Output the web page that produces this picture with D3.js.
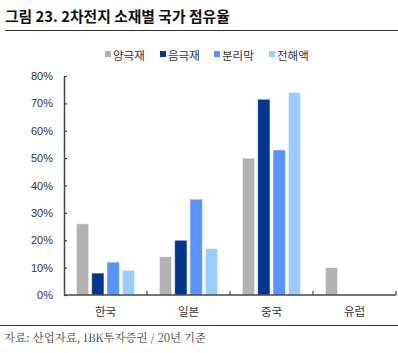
<!DOCTYPE html>
<html>
<head>
<meta charset="utf-8">
<script src="https://cdn.jsdelivr.net/npm/d3@7"></script>
<style>
  body { margin: 0; background: #fff; }
  svg { display: block; font-family: "Noto Sans CJK KR", "Noto Sans", sans-serif; }
</style>
</head>
<body>
<svg id="chart" width="398" height="353"></svg>
<script>
// data
const countries = ['한국', '일본', '중국', '유럽']
const seriesNames = ['양극재', '음극재', '분리막', '전해액']
const cathode = [26, 14, 50, 10]
const anode = [8, 20, 71.5, 0]
const separator = [12, 35, 53, 0]
const electrolyte = [9, 17, 74, 0]
const yTicks = [0, 10, 20, 30, 40, 50, 60, 70, 80]
const colors = ['#b2b2b2', '#003591', '#5593ff', '#99ccff']

const values = [cathode, anode, separator, electrolyte]

const svg = d3.select('#chart')
const margin = {top: 76, bottom: 58, left: 64, right: 2}
const width = +svg.attr('width')
const height = +svg.attr('height')

// title + rule
svg.append('text')
  .attr('x', 5).attr('y', 22)
  .text('그림 23. 2차전지 소재별 국가 점유율')
  .attr('font-size', 14.8).attr('font-weight', 'bold').attr('fill', '#111')
svg.append('line')
  .attr('x1', 5).attr('x2', 398).attr('y1', 30.5).attr('y2', 30.5)
  .attr('stroke', '#333').attr('stroke-width', 1.2)

// scales
const x0 = d3.scaleBand()
  .domain(countries)
  .range([margin.left, width - margin.right])

const x1 = d3.scaleBand()
  .domain(seriesNames)
  .range([0, x0.bandwidth()])
  .paddingInner(0.2)
  .paddingOuter(0.81)

const y = d3.scaleLinear()
  .domain([0, 80])
  .range([height - margin.bottom, margin.top])

// legend
const legendX = [105, 160, 214, 269]
const legend = svg.append('g')
seriesNames.forEach((s, i) => {
  legend.append('rect')
    .attr('x', legendX[i]).attr('y', 51)
    .attr('width', 6).attr('height', 6)
    .attr('fill', colors[i])
  legend.append('text')
    .attr('x', legendX[i] + 8).attr('y', 59.5)
    .text(s)
    .attr('font-size', 11.5).attr('fill', '#333')
})

// bars
const g = svg.append('g')
countries.forEach((c, ci) => {
  seriesNames.forEach((s, si) => {
    const v = values[si][ci]
    if (!v) return
    g.append('rect')
      .attr('x', x0(c) + x1(s))
      .attr('y', y(v))
      .attr('width', x1.bandwidth())
      .attr('height', y(0) - y(v))
      .attr('fill', colors[si])
      .attr('stroke', '#fff')
      .attr('stroke-opacity', 0.6)
      .attr('stroke-width', 0.8)
  })
})

// y axis
const yAxis = svg.append('g')
  .attr('transform', `translate(${margin.left},0)`)
  .call(d3.axisLeft(y).tickValues(yTicks).tickFormat(d => d + '%')
    .tickSizeInner(-3).tickSizeOuter(0).tickPadding(11))
yAxis.select('.domain').attr('stroke', '#444').attr('stroke-width', 1.5)
yAxis.selectAll('.tick line').attr('stroke', '#444').attr('stroke-width', 1.2)
yAxis.selectAll('text').attr('font-size', 11).attr('fill', '#333')
  .attr('font-family', '"Liberation Sans", Arial, sans-serif')

// x axis: baseline, boundary ticks pointing up, labels
const xAxis = svg.append('g')
xAxis.append('line')
  .attr('x1', margin.left).attr('x2', width - margin.right)
  .attr('y1', y(0)).attr('y2', y(0))
  .attr('stroke', '#444').attr('stroke-width', 1.5)
countries.forEach(c => {
  const bx = x0(c) + x0.bandwidth()
  xAxis.append('line')
    .attr('x1', bx).attr('x2', bx)
    .attr('y1', y(0)).attr('y2', y(0) - 4)
    .attr('stroke', '#444').attr('stroke-width', 1.2)
  xAxis.append('text')
    .attr('x', x0(c) + x0.bandwidth() / 2)
    .attr('y', y(0) + 21)
    .attr('text-anchor', 'middle')
    .text(c)
    .attr('font-size', 11.5).attr('fill', '#333')
})

// source
svg.append('line')
  .attr('x1', 0).attr('x2', 398).attr('y1', 325.5).attr('y2', 325.5)
  .attr('stroke', '#333').attr('stroke-width', 1)
svg.append('text')
  .attr('x', 4).attr('y', 342)
  .text('자료: 산업자료, IBK투자증권 / 20년 기준')
  .attr('font-size', 11.4).attr('fill', '#444')
  .attr('font-family', '"Noto Serif CJK KR", "Liberation Serif", serif')
</script>
</body>
</html>
